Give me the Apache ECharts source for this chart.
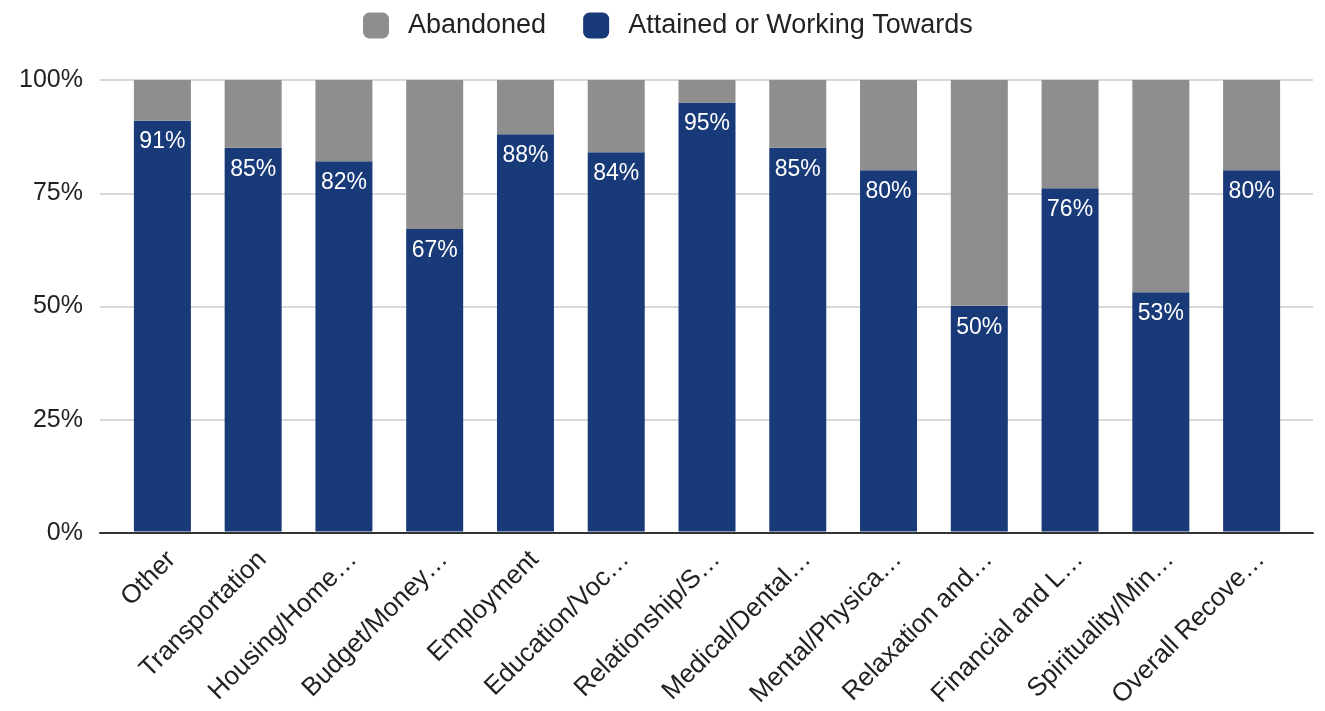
<!DOCTYPE html>
<html><head><meta charset="utf-8">
<script src="https://cdn.jsdelivr.net/npm/echarts@6/dist/echarts.min.js"></script>
<style>html,body{margin:0;padding:0;background:#fff}#c{width:1325px;height:711px}</style>
</head><body><div id="c"></div>
<script>
const categories = ["Other","Transportation","Housing/Home…","Budget/Money…","Employment","Education/Voc…","Relationship/S…","Medical/Dental…","Mental/Physica…","Relaxation and…","Financial and L…","Spirituality/Min…","Overall Recove…"];
const attained = [91,85,82,67,88,84,95,85,80,50,76,53,80];
const abandoned = attained.map(v => 100 - v);
const yTicks = [0,25,50,75,100];

const chart = echarts.init(document.getElementById('c'));
const font = 'Liberation Sans, Arial, sans-serif';
chart.setOption({
  animation: false,
  textStyle: {fontFamily: font},
  legend: {
    top: 7, left: 358, itemWidth: 26, itemHeight: 26, itemGap: 37,
    textStyle: {fontSize: 27, color: '#222', fontFamily: font, padding: [0, 0, 0, 14]},
    icon: 'roundRect',
    data: ['Abandoned', 'Attained or Working Towards']
  },
  grid: [
    {left: 100, right: 12, top: 80, bottom: 178},
    {left: 117, right: 28, top: 80, bottom: 178}
  ],
  xAxis: [
    {gridIndex: 0, type: 'value', min: 0, max: 1, show: true,
     axisLine: {show: true, lineStyle: {color: '#333', width: 2}},
     axisTick: {show: false}, axisLabel: {show: false}, splitLine: {show: false}},
    {gridIndex: 1, type: 'category', data: categories,
     axisLine: {show: false}, axisTick: {show: false},
     axisLabel: {rotate: 45, fontSize: 26, color: '#222', margin: 15, interval: 0, verticalAlign: 'top', fontFamily: font}}
  ],
  yAxis: [
    {gridIndex: 0, type: 'value', min: 0, max: 100, interval: 25,
     axisLine: {show: false}, axisTick: {show: false},
     axisLabel: {formatter: v => v + '%', fontSize: 25, color: '#222', margin: 17, fontFamily: font},
     splitLine: {lineStyle: {color: '#cccccc', width: 1.5}}},
    {gridIndex: 1, type: 'value', min: 0, max: 100, show: false, splitLine: {show: false}}
  ],
  series: [
    {name: 'Attained or Working Towards', type: 'bar', stack: 's', xAxisIndex: 1, yAxisIndex: 1,
     data: attained, barWidth: 57, itemStyle: {color: '#193a78'},
     label: {show: true, position: 'insideTop', distance: 10, color: '#fff', fontSize: 23, formatter: p => p.value + '%', fontFamily: font}},
    {name: 'Abandoned', type: 'bar', stack: 's', xAxisIndex: 1, yAxisIndex: 1,
     data: abandoned, barWidth: 57, itemStyle: {color: '#8e8e8e'}}
  ]
});
</script></body></html>
